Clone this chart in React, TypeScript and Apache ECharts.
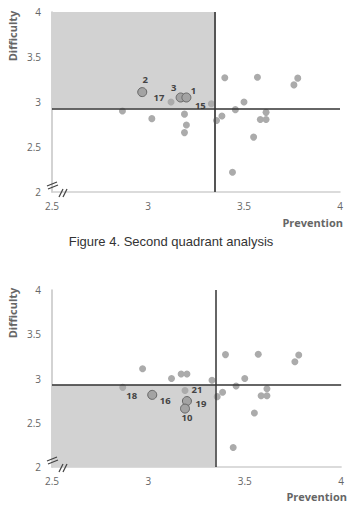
import React, { useEffect, useRef } from "react";
import * as echarts from "echarts";

// Item numbers (null = unlabeled item)
const itemIds: (number | null)[] = [2, 17, 3, 1, 15, 21, 18, 16, 19, 10, null, null, null, null, null, null, null, null, null, null, null, null, null];
// Prevention score (x)
const prevention: number[] = [2.97, 3.12, 3.17, 3.2, 3.33, 3.19, 2.867, 3.02, 3.2, 3.19, 3.4, 3.57, 3.76, 3.78, 3.5, 3.455, 3.385, 3.357, 3.615, 3.585, 3.615, 3.55, 3.44];
// Difficulty score (y)
const difficulty: number[] = [3.11, 3.0, 3.05, 3.05, 2.98, 2.865, 2.9, 2.815, 2.745, 2.66, 3.27, 3.275, 3.19, 3.265, 3.0, 2.915, 2.845, 2.795, 2.885, 2.805, 2.805, 2.61, 2.22];

const xTicks = [2.5, 3, 3.5, 4];
const yTicks = [2, 2.5, 3, 3.5, 4];
const preventionMean = 3.347;
const difficultyMean = 2.93;

const chart1Big = [2, 3, 1];
const chart1Labeled = [17, 15];
const chart2Big = [16, 19, 10];
const chart2Labeled = [18, 21];

const labelOffsets: Record<string, [number, number]> = {
  "1-2": [3, -13],
  "1-3": [-7, -10],
  "1-1": [7, -7],
  "1-17": [-12, -5],
  "1-15": [-11, 2],
  "2-18": [9, 8],
  "2-16": [13, 6],
  "2-21": [12, -0.5],
  "2-19": [14, 2],
  "2-10": [2, 9],
};

const FONT = "'Open Sans', 'DejaVu Sans', sans-serif";

function buildSeries(chart: number, big: number[], labeled: number[]) {
  const smallData: any[] = [];
  const bigData: any[] = [];
  itemIds.forEach((id, i) => {
    const isBig = id !== null && big.includes(id);
    const isLab = id !== null && (big.includes(id) || labeled.includes(id));
    const d: any = { value: [prevention[i], difficulty[i]] };
    if (isLab) {
      d.label = {
        show: true,
        formatter: String(id),
        position: "inside",
        offset: labelOffsets[`${chart}-${id}`] || [0, 0],
        color: "#444",
        fontSize: 9.5,
        lineHeight: 10,
        fontWeight: "bold",
        fontFamily: FONT,
      };
    }
    (isBig ? bigData : smallData).push(d);
  });
  const gi = chart - 1;
  return [
    {
      type: "scatter",
      xAxisIndex: gi,
      yAxisIndex: gi,
      data: [],
      silent: true,
      z: 1,
      markArea: {
        silent: true,
        itemStyle: { color: "#d2d2d2" },
        data:
          chart === 1
            ? [[{ xAxis: 2.5, yAxis: difficultyMean }, { xAxis: preventionMean, yAxis: 4 }]]
            : [[{ xAxis: 2.5, yAxis: 2 }, { xAxis: preventionMean, yAxis: difficultyMean }]],
      },
      markLine: {
        silent: true,
        symbol: "none",
        label: { show: false },
        data: [
          { xAxis: preventionMean, lineStyle: { color: chart === 1 ? "#555" : "#333", width: chart === 1 ? 2 : 1.5, type: "solid" } },
          { yAxis: difficultyMean, lineStyle: { color: "#333", width: 1.5, type: "solid" } },
        ],
      },
    },
    {
      type: "scatter",
      xAxisIndex: gi,
      yAxisIndex: gi,
      symbolSize: 7,
      itemStyle: { color: "#ababab", opacity: 1 },
      data: smallData,
      z: 3,
    },
    {
      type: "scatter",
      xAxisIndex: gi,
      yAxisIndex: gi,
      symbolSize: 9,
      itemStyle: { color: "#a3a3a3", borderColor: "#666", borderWidth: 1, opacity: 1 },
      data: bigData,
      z: 4,
    },
  ];
}

function axisPair(gi: number) {
  const x = {
    type: "value",
    gridIndex: gi,
    min: xTicks[0],
    max: xTicks[xTicks.length - 1],
    interval: 0.5,
    axisLine: { show: true, lineStyle: { color: "#cfcfcf", width: 1.5 } },
    axisTick: { show: false },
    splitLine: { show: false },
    axisLabel: { color: "#666", fontSize: 10, fontFamily: FONT, margin: 9, formatter: (v: number) => String(v) },
  };
  const y = {
    type: "value",
    gridIndex: gi,
    min: yTicks[0],
    max: yTicks[yTicks.length - 1],
    interval: 0.5,
    axisLine: { show: true, lineStyle: { color: "#c4c4c4", width: 1.5 } },
    axisTick: { show: false },
    splitLine: { show: false },
    axisLabel: { color: "#666", fontSize: 10, fontFamily: FONT, margin: 11, formatter: (v: number) => String(v) },
  };
  return { x, y };
}

function breakMarks(x0: number, y0: number) {
  const s = { stroke: "#444", lineWidth: 1.2 };
  return [
    { type: "line", shape: { x1: x0 - 5, y1: y0 - 6, x2: x0 + 5, y2: y0 - 10 }, style: s, z: 20 },
    { type: "line", shape: { x1: x0 - 4, y1: y0 - 3, x2: x0 + 6, y2: y0 - 7 }, style: s, z: 20 },
    { type: "line", shape: { x1: x0 + 7, y1: y0 + 5, x2: x0 + 11, y2: y0 - 3 }, style: s, z: 20 },
    { type: "line", shape: { x1: x0 + 11, y1: y0 + 5, x2: x0 + 15, y2: y0 - 3 }, style: s, z: 20 },
  ];
}

export default function App() {
  const ref = useRef<HTMLDivElement>(null);
  useEffect(() => {
    if (!ref.current) return;
    const chart = echarts.init(ref.current, undefined, { renderer: "svg" });
    const a1 = axisPair(0);
    const a2 = axisPair(1);
    const nameStyle = { fill: "#666", fontSize: 11, fontWeight: "bold", fontFamily: FONT };
    chart.setOption({
      animation: false,
      backgroundColor: "#fff",
      grid: [
        { left: 52, top: 12, width: 288, height: 180 },
        { left: 52, top: 290, width: 291, height: 177 },
      ],
      xAxis: [a1.x, a2.x],
      yAxis: [a1.y, a2.y],
      series: [...buildSeries(1, chart1Big, chart1Labeled), ...buildSeries(2, chart2Big, chart2Labeled)],
      graphic: [
        {
          type: "text",
          x: 12,
          y: 36,
          rotation: Math.PI / 2,
          style: { text: "Difficulty", ...nameStyle, align: "center", verticalAlign: "middle" },
          z: 10,
        },
        {
          type: "text",
          x: 12,
          y: 313,
          rotation: Math.PI / 2,
          style: { text: "Difficulty", ...nameStyle, align: "center", verticalAlign: "middle" },
          z: 10,
        },
        { type: "text", x: 343, y: 222, style: { text: "Prevention", ...nameStyle, align: "right", verticalAlign: "middle" } },
        { type: "text", x: 347, y: 496, style: { text: "Prevention", ...nameStyle, align: "right", verticalAlign: "middle" } },
        {
          type: "text",
          x: 171,
          y: 241,
          style: {
            text: "Figure 4. Second quadrant analysis",
            fill: "#333",
            fontSize: 13,
            fontFamily: "'Liberation Sans', Arial, sans-serif",
            align: "center",
            verticalAlign: "middle",
          },
        },
        ...breakMarks(52, 192),
        ...breakMarks(52, 467),
      ],
    });
    return () => chart.dispose();
  }, []);
  return (
    <div
      ref={ref}
      style={{ position: "absolute", left: 0, top: 0, width: 347, height: 514, background: "#fff" }}
    />
  );
}
